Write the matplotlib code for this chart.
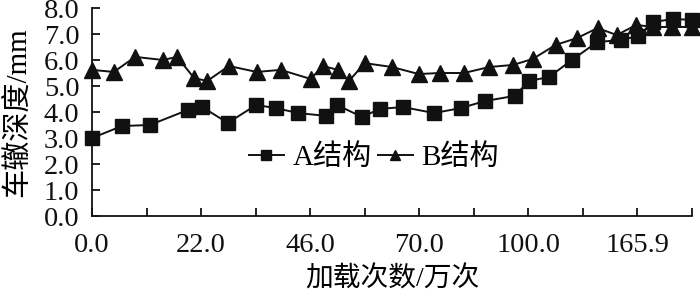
import matplotlib
matplotlib.use('Agg')
import matplotlib.pyplot as plt

plt.rcParams['font.family'] = ['Liberation Serif', 'Noto Sans CJK SC']

# x positions along the category axis (in tick units) and rut depths
a_x = [0, 0.55, 1.06, 1.76, 2.02, 2.49, 3.01, 3.37, 3.78, 4.29, 4.49, 4.95, 5.28, 5.70,
       6.27, 6.76, 7.20, 7.75, 8.01, 8.38, 8.80, 9.26, 9.70, 10.01, 10.29, 10.66, 11.0]
a_y = [3.0, 3.46, 3.5, 4.08, 4.19, 3.58, 4.27, 4.15, 3.96, 3.85, 4.27, 3.81, 4.12, 4.19,
       3.96, 4.15, 4.42, 4.62, 5.19, 5.35, 6.0, 6.69, 6.77, 6.92, 7.46, 7.58, 7.54]

b_x = [0, 0.40, 0.79, 1.30, 1.56, 1.87, 2.11, 2.51, 3.02, 3.46, 4.01, 4.23, 4.51, 4.71, 5.00,
       5.50, 5.99, 6.38, 6.82, 7.28, 7.72, 8.08, 8.50, 8.90, 9.27, 9.62, 9.98, 10.28, 10.64, 11.0]
b_y = [5.62, 5.54, 6.12, 6.0, 6.12, 5.31, 5.19, 5.77, 5.54, 5.62, 5.27, 5.77, 5.62, 5.19, 5.88,
       5.73, 5.46, 5.5, 5.5, 5.73, 5.81, 6.04, 6.58, 6.85, 7.23, 6.96, 7.35, 7.27, 7.27, 7.27]

tick_pos = [0, 2, 4, 6, 8, 10]
tick_labels = ['0.0', '22.0', '46.0', '70.0', '100.0', '165.9']

ink = '#111111'

fig = plt.figure(figsize=(7, 2.96), dpi=100)
ax = fig.add_axes([92 / 700, 1 - 216 / 296, 600 / 700, 208 / 296])

ax.plot(a_x, a_y, color=ink, lw=1.4, marker='s', ms=9.5, label='A结构', clip_on=False, zorder=3)
ax.plot(b_x, b_y, color=ink, lw=1.4, marker='^', ms=11, label='B结构', clip_on=False, zorder=3)

ax.set_xlim(0, 11)
ax.set_ylim(0, 8)
ax.set_yticks([i for i in range(9)])
ax.set_yticklabels([f'{i:.1f}' for i in range(9)])
ax.set_xticks(list(range(12)))
ax.set_xticklabels([tick_labels[tick_pos.index(i)] if i in tick_pos else '' for i in range(12)])

for s in ['top', 'right']:
    ax.spines[s].set_visible(False)
for s in ['left', 'bottom']:
    ax.spines[s].set_linewidth(1.3)
    ax.spines[s].set_color(ink)

ax.tick_params(direction='in', length=6, width=1.3, colors=ink, labelsize=20.5)
ax.tick_params(axis='y', pad=9)
ax.tick_params(axis='x', pad=12)

ax.set_ylabel('车辙深度/mm', fontsize=21, labelpad=9)
ax.set_xlabel('加载次数/万次', fontsize=20, labelpad=6)

ax.legend(loc='center', bbox_to_anchor=(0.47, 0.28), ncol=2, frameon=False, fontsize=21,
          handlelength=1.2, handletextpad=0.3, columnspacing=0.2, markerscale=0.7,
          borderpad=0)

fig.savefig('out.png', dpi=100)
